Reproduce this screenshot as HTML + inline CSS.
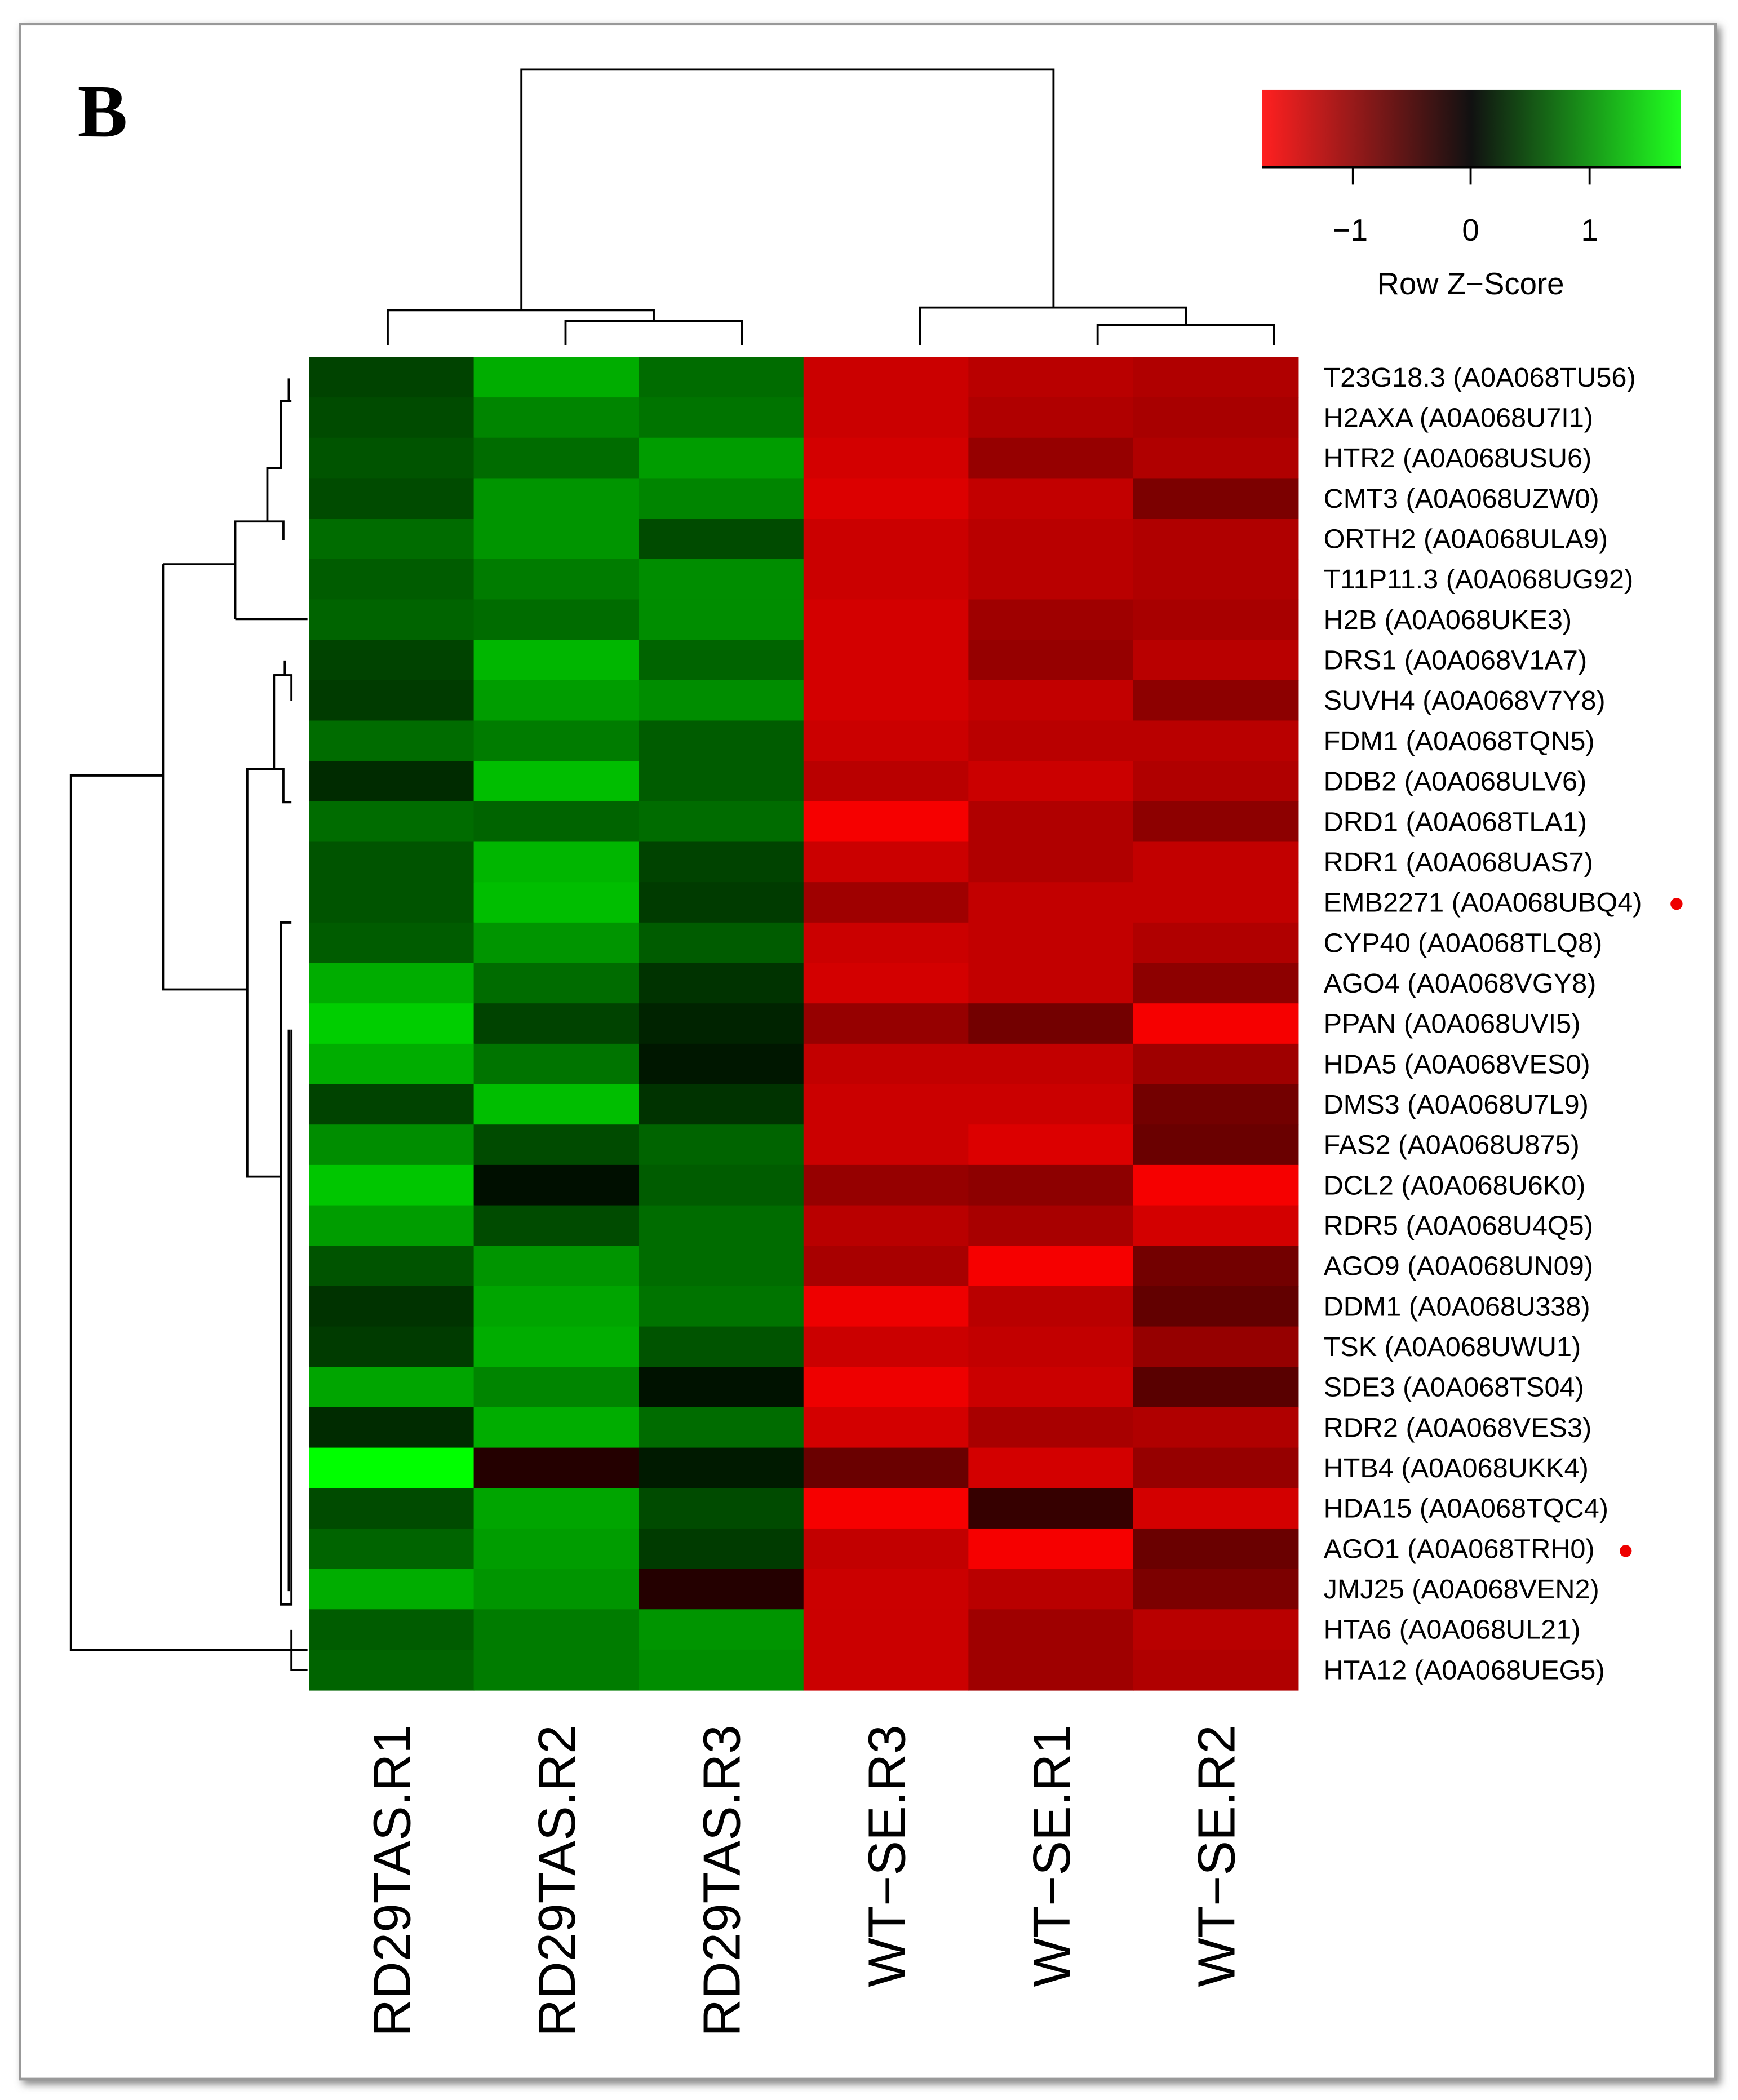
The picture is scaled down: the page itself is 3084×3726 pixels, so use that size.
<!DOCTYPE html>
<html><head><meta charset="utf-8"><style>html,body{margin:0;padding:0;background:#fff}svg{display:block}</style></head>
<body>
<svg id="chart" width="3084" height="3726" viewBox="0 0 1300 1570.6" preserveAspectRatio="none" xmlns="http://www.w3.org/2000/svg" font-family="Liberation Sans, sans-serif">
<defs>
<linearGradient id="keyg" x1="0" x2="1" y1="0" y2="0">
<stop offset="0" stop-color="#ff2020"/><stop offset="0.5" stop-color="#111"/><stop offset="1" stop-color="#20ff20"/>
</linearGradient>
<filter id="sh" x="-5%" y="-5%" width="110%" height="110%"><feDropShadow dx="3" dy="3" stdDeviation="3" flood-color="#888"/></filter>
</defs>
<rect x="15" y="18" width="1268" height="1537" fill="#fff" stroke="#999" stroke-width="2" filter="url(#sh)"/>
<text x="58" y="102" font-family="Liberation Serif, serif" font-weight="bold" font-size="56">B</text>
<g id="heat"></g>
<g id="rowlabels"></g>
<g id="collabels"></g>
<g stroke="#000" stroke-width="1.6" fill="none">
<path d="M390 232V52H788V230"/><path d="M290 258V232H489V240"/><path d="M423 258V240H555V258"/>
<path d="M688 258V230H887V243"/><path d="M821 258V243H953V258"/>
</g>
<g stroke="#000" stroke-width="1.6" fill="none">
<path d="M230 1234H53V580H122"/><path d="M218 1219V1249H230"/>
<path d="M176 463V390H200"/><path d="M122 422V740H185"/><path d="M122 422H176"/><path d="M176 463H230"/>
<path d="M200 390V350H210V300H216V283"/><path d="M210 300H218"/><path d="M200 390H212V404"/>
<path d="M185 740V575H205V505H213V494"/><path d="M205 505H218V524"/><path d="M205 575H212V600H218"/>
<path d="M185 740V880H210V690H218"/><path d="M210 880V1200H218V770"/><path d="M216 770V1190"/>
</g>
<g>
<rect x="944" y="67" width="313" height="58" fill="url(#keyg)"/>
<path d="M944 125H1257M1012 125V138M1100 125V138M1189 125V138" stroke="#000" stroke-width="1.6"/>
<g font-size="23" text-anchor="middle">
<text x="1010" y="180">−1</text>
<text x="1100" y="180">0</text>
<text x="1189" y="180">1</text>
<text x="1100" y="220">Row Z−Score</text>
</g>
</g>
<circle cx="1254" cy="676" r="4.5" fill="#e00"/>
<circle cx="1216" cy="1160" r="4.5" fill="#e00"/>
<script>
const columns=["RD29TAS.R1","RD29TAS.R2","RD29TAS.R3","WT−SE.R3","WT−SE.R1","WT−SE.R2"];
const genes=["T23G18.3 (A0A068TU56)","H2AXA (A0A068U7I1)","HTR2 (A0A068USU6)","CMT3 (A0A068UZW0)","ORTH2 (A0A068ULA9)","T11P11.3 (A0A068UG92)","H2B (A0A068UKE3)","DRS1 (A0A068V1A7)","SUVH4 (A0A068V7Y8)","FDM1 (A0A068TQN5)","DDB2 (A0A068ULV6)","DRD1 (A0A068TLA1)","RDR1 (A0A068UAS7)","EMB2271 (A0A068UBQ4)","CYP40 (A0A068TLQ8)","AGO4 (A0A068VGY8)","PPAN (A0A068UVI5)","HDA5 (A0A068VES0)","DMS3 (A0A068U7L9)","FAS2 (A0A068U875)","DCL2 (A0A068U6K0)","RDR5 (A0A068U4Q5)","AGO9 (A0A068UN09)","DDM1 (A0A068U338)","TSK (A0A068UWU1)","SDE3 (A0A068TS04)","RDR2 (A0A068VES3)","HTB4 (A0A068UKK4)","HDA15 (A0A068TQC4)","AGO1 (A0A068TRH0)","JMJ25 (A0A068VEN2)","HTA6 (A0A068UL21)","HTA12 (A0A068UEG5)"];
const zscores=[
[0.35,1.0,0.6,-1.1,-1.0,-0.95],[0.4,0.75,0.65,-1.1,-0.95,-0.9],[0.45,0.6,0.9,-1.15,-0.8,-0.95],[0.4,0.85,0.75,-1.2,-1.05,-0.65],
[0.6,0.85,0.4,-1.1,-1.0,-0.95],[0.5,0.7,0.8,-1.1,-1.0,-0.95],[0.55,0.6,0.8,-1.15,-0.85,-0.9],[0.35,1.05,0.55,-1.15,-0.8,-1.0],
[0.3,0.9,0.8,-1.15,-1.05,-0.75],[0.6,0.7,0.5,-1.1,-1.0,-1.0],[0.2,1.1,0.5,-1.0,-1.1,-0.95],[0.6,0.55,0.6,-1.35,-0.95,-0.75],
[0.45,1.05,0.35,-1.1,-0.95,-1.05],[0.45,1.1,0.3,-0.85,-1.05,-1.05],[0.5,0.85,0.5,-1.1,-1.05,-0.95],[1.0,0.6,0.25,-1.15,-1.05,-0.75],
[1.2,0.35,0.15,-0.8,-0.6,-1.35],[1.0,0.65,0.08,-1.05,-1.05,-0.85],[0.35,1.1,0.25,-1.1,-1.1,-0.6],[0.8,0.4,0.55,-1.1,-1.2,-0.55],
[1.15,0.03,0.5,-0.8,-0.75,-1.35],[0.9,0.4,0.6,-1.0,-0.9,-1.15],[0.45,0.85,0.6,-0.9,-1.35,-0.6],[0.25,0.95,0.65,-1.3,-1.0,-0.5],
[0.3,1.0,0.45,-1.1,-1.05,-0.8],[0.95,0.75,0.05,-1.3,-1.1,-0.45],[0.2,1.0,0.6,-1.15,-0.9,-0.95],[1.5,-0.15,0.1,-0.55,-1.15,-0.8],
[0.4,0.95,0.4,-1.35,-0.25,-1.15],[0.55,0.9,0.3,-1.05,-1.35,-0.55],[1.0,0.85,-0.15,-1.1,-1.0,-0.65],[0.5,0.7,0.85,-1.1,-0.85,-1.0],
[0.55,0.7,0.8,-1.1,-0.85,-0.95]];
const NS="http://www.w3.org/2000/svg";
const X0=231,X1=971,Y0=267,Y1=1264;
const cw=(X1-X0)/columns.length, rh=(Y1-Y0)/genes.length;
const xPos=i=>X0+i*cw, yPos=j=>Y0+j*rh;
function color(v){
 if(v<0){const t=Math.min(1,Math.abs(v)/1.4);const c=Math.round(10+t*245);return `rgb(${c},0,0)`;}
 const t=Math.min(1,v/1.5);const c=Math.round(10+t*245);return `rgb(0,${c},0)`;
}
const heat=document.getElementById('heat');
zscores.forEach((row,j)=>row.forEach((v,i)=>{
 const r=document.createElementNS(NS,'rect');
 r.setAttribute('x',xPos(i));r.setAttribute('y',yPos(j));r.setAttribute('width',cw+0.4);r.setAttribute('height',rh+0.4);
 r.setAttribute('fill',color(v));
 
 
 heat.appendChild(r);
}));
const rl=document.getElementById('rowlabels');
genes.forEach((g,j)=>{
 const t=document.createElementNS(NS,'text');
 t.setAttribute('x',990);t.setAttribute('y',yPos(j)+rh/2+7);t.setAttribute('font-size','20.5');
 t.textContent=g;
 
 
 rl.appendChild(t);
});
const cl=document.getElementById('collabels');
columns.forEach((c,i)=>{
 const t=document.createElementNS(NS,'text');
 const x=xPos(i)+cw/2+14;
 t.setAttribute('transform',`translate(${x},1290) rotate(-90)`);
 t.setAttribute('text-anchor','end');t.setAttribute('font-size','39');
 t.textContent=c;
 
 
 cl.appendChild(t);
});
</script>
</svg>
</body></html>
